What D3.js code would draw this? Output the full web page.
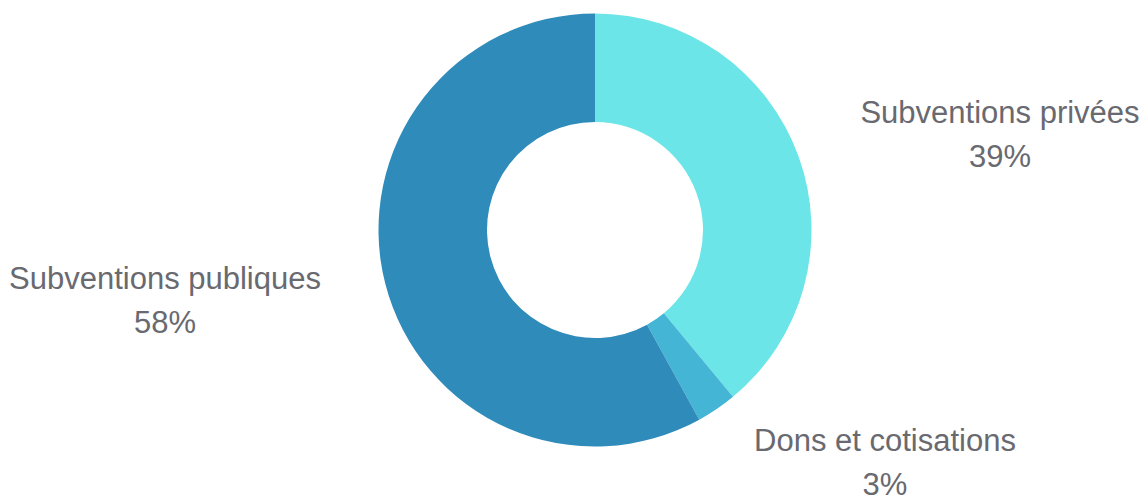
<!DOCTYPE html>
<html>
<head>
<meta charset="utf-8">
<script src="https://cdn.jsdelivr.net/npm/d3@7"></script>
<style>
  body { margin: 0; background: #fff; }
  svg { display: block; }
</style>
</head>
<body>
<script>
var width = 1144;
var height = 498;
var cx = 595;
var cy = 230;
var outer = 216.5;
var inner = 108;

// slices, clockwise from the top
var labels = ["Subventions privées", "Dons et cotisations", "Subventions publiques"];
var values = [39, 3, 58];
var colors = ["#6ce5e8", "#44b5d5", "#2e8bba"];

// label anchor points (centre of the first line), [x, y]
var labelPos = [[1000, 112], [885, 440], [165, 278]];

var svg = d3.select("body").append("svg")
    .attr("width", width)
    .attr("height", height);

var pie = d3.pie().sort(null).value(function(d) { return d; });
var arc = d3.arc().innerRadius(inner).outerRadius(outer);

var g = svg.append("g").attr("transform", "translate(" + cx + "," + cy + ")");

g.selectAll("path")
    .data(pie(values))
    .enter()
    .append("path")
    .attr("d", arc)
    .attr("fill", function(d, i) { return colors[i]; });

var txt = svg.append("g")
    .attr("font-family", "'Liberation Sans', Arial, sans-serif")
    .attr("font-size", 31)
    .attr("fill", "#696970")
    .attr("text-anchor", "middle");

labels.forEach(function(name, i) {
    var t = txt.append("text")
        .attr("x", labelPos[i][0])
        .attr("y", labelPos[i][1])
        .attr("dominant-baseline", "central");
    t.append("tspan").attr("x", labelPos[i][0]).text(name);
    t.append("tspan").attr("x", labelPos[i][0]).attr("dy", 44).text(values[i] + "%");
});
</script>
</body>
</html>
